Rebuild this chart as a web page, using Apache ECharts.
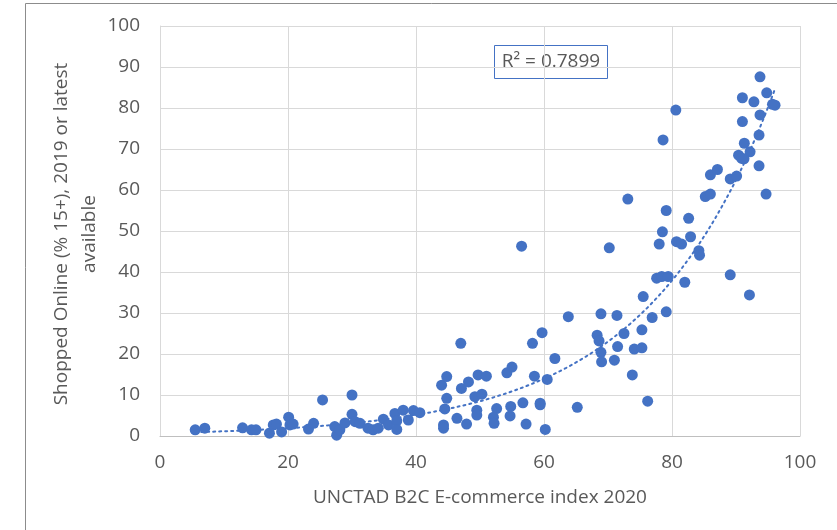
<!DOCTYPE html>
<html>
<head>
<meta charset="utf-8">
<script src="https://cdn.jsdelivr.net/npm/echarts@6/dist/echarts.min.js"></script>
<style>
html,body{margin:0;padding:0;background:#fff;}
#chart{width:837px;height:530px;}
</style>
</head>
<body>
<div id="chart"></div>
<script>
// UNCTAD B2C E-commerce index 2020 (x) and Shopped Online % 15+ (y)
var ecommerceIndex = [
  5.5, 7.0, 12.9, 14.3, 15.0, 17.1, 17.7, 18.2, 19.0, 20.1, 20.3, 20.8, 23.2, 24.0, 25.4,
  27.3, 27.6, 28.1, 28.9, 30.0, 30.0, 30.5, 31.25, 32.5, 33.3, 34.1, 34.9, 35.7, 36.7, 37.0,
  37.0, 38.0, 38.8, 39.6, 40.6, 44.0, 44.8, 44.8, 44.3, 44.3, 44.5, 46.4, 47.0, 47.1, 48.2,
  47.9, 49.2, 49.7, 51.0, 50.3, 49.5, 49.5, 52.6, 52.1, 52.2, 54.2, 55.0, 54.8, 54.7, 56.7,
  57.2, 58.2, 58.5, 59.4, 59.4, 59.7, 60.2, 60.5, 61.7, 56.5, 63.8, 65.2, 70.2, 73.1, 68.3,
  68.6, 68.9, 68.9, 69.0, 71.4, 71.5, 71.0, 72.5, 73.8, 74.1, 75.3, 75.3, 75.5, 76.2, 76.9,
  77.6, 78.4, 79.4, 79.1, 78.0, 78.5, 79.1, 82.0, 80.7, 81.5, 82.6, 82.9, 84.2, 84.3, 78.6,
  80.6, 93.75, 91.0, 92.8, 94.8, 96.1, 95.7, 91.0, 93.75, 91.3, 93.6, 92.2, 90.4, 90.9, 91.25,
  93.6, 86.0, 87.1, 89.1, 90.1, 85.2, 86.0, 94.7, 89.1, 92.1
];
var shoppedOnline = [
  1.5, 1.9, 2.0, 1.5, 1.5, 0.7, 2.7, 2.9, 1.0, 4.6, 2.7, 2.9, 1.7, 3.1, 8.8,
  2.3, 0.2, 1.5, 3.2, 10.0, 5.3, 3.5, 3.1, 1.9, 1.5, 1.9, 4.1, 2.7, 5.5, 3.7,
  1.6, 6.3, 3.9, 6.2, 5.7, 12.4, 14.5, 9.2, 2.7, 1.9, 6.6, 4.3, 22.6, 11.6, 13.2,
  2.9, 9.6, 14.9, 14.6, 10.2, 6.3, 5.1, 6.7, 4.6, 3.1, 15.4, 16.8, 7.2, 4.9, 8.1,
  2.9, 22.6, 14.6, 8.0, 7.6, 25.2, 1.6, 13.8, 18.9, 46.3, 29.1, 7.0, 45.9, 57.8, 24.6,
  23.2, 29.8, 20.4, 18.1, 29.4, 21.8, 18.5, 25.0, 14.9, 21.2, 21.5, 25.9, 34.0, 8.5, 28.9,
  38.5, 38.9, 38.9, 30.3, 46.8, 49.8, 55.0, 37.5, 47.4, 46.8, 53.1, 48.6, 45.2, 44.1, 72.2,
  79.5, 87.6, 82.5, 81.5, 83.7, 80.7, 80.9, 76.7, 78.3, 71.4, 73.4, 69.3, 68.5, 67.7, 67.6,
  65.9, 63.7, 65.0, 62.7, 63.4, 58.4, 59.0, 59.0, 39.3, 34.4
];
var xTicks = [0, 20, 40, 60, 80, 100];
var yTicks = [0, 10, 20, 30, 40, 50, 60, 70, 80, 90, 100];
// Exponential trendline y = A * e^(B x)
var TREND_A = 0.70;
var TREND_B = 0.0499;
var R2_LABEL = 'R\u00B2 = 0.7899';

var points = ecommerceIndex.map(function (x, i) { return [x, shoppedOnline[i]]; });
var xMin = Math.min.apply(null, ecommerceIndex);
var xMax = Math.max.apply(null, ecommerceIndex);
var trend = [];
for (var t = 0; t <= 100; t++) {
  var xv = xMin + (xMax - xMin) * t / 100;
  trend.push([xv, TREND_A * Math.exp(TREND_B * xv)]);
}

var FONT = '"Open Sans", sans-serif';
var FS = 19;
var chart = echarts.init(document.getElementById('chart'), null, { renderer: 'canvas' });
chart.setOption({
  animation: false,
  backgroundColor: '#fff',
  grid: { left: 160, right: 37, top: 26, bottom: 94 },
  xAxis: {
    type: 'value', min: xTicks[0], max: xTicks[xTicks.length - 1], interval: 20,
    name: 'UNCTAD B2C E-commerce index 2020', nameLocation: 'middle', nameGap: 52,
    nameTextStyle: { color: '#595959', fontSize: FS, fontFamily: FONT },
    axisLine: { show: true, lineStyle: { color: '#bfbfbf', width: 1 } },
    axisTick: { show: false },
    axisLabel: { color: '#595959', fontSize: FS, fontFamily: FONT, margin: 17 },
    splitLine: { show: true, lineStyle: { color: '#d9d9d9', width: 1 } }
  },
  yAxis: {
    type: 'value', min: yTicks[0], max: yTicks[yTicks.length - 1], interval: 10,
    axisLine: { show: true, lineStyle: { color: '#d9d9d9', width: 1 } },
    axisTick: { show: false },
    axisLabel: { color: '#595959', fontSize: FS, fontFamily: FONT, margin: 20 },
    splitLine: { show: true, lineStyle: { color: '#d9d9d9', width: 1 } }
  },
  graphic: [
    { type: 'rect', z: -10, silent: true,
      shape: { x: 25.5, y: 3.5, width: 900, height: 600 },
      style: { fill: 'none', stroke: '#8c8c8c', lineWidth: 1 } },
    { type: 'text', silent: true, x: 76, y: 234, rotation: Math.PI / 2,
      style: { text: 'Shopped Online (% 15+), 2019 or latest\navailable', fill: '#595959',
               font: FS + 'px ' + FONT, align: 'center', verticalAlign: 'middle', lineHeight: 28 } },
    { type: 'rect', silent: true, shape: { x: 494.5, y: 45.5, width: 113, height: 33 },
      style: { fill: '#fff', stroke: '#4472C4', lineWidth: 1 } },
    { type: 'text', silent: true, x: 551, y: 62, style: { text: R2_LABEL, fill: '#595959',
      font: FS + 'px ' + FONT, align: 'center', verticalAlign: 'middle' } }
  ],
  series: [
    { type: 'line', data: trend, showSymbol: false, symbol: 'none', smooth: false, z: 1,
      lineStyle: { color: '#4472C4', width: 2, type: [2, 4], cap: 'round' } },
    { type: 'scatter', data: points, symbol: 'circle', symbolSize: 11, z: 3,
      itemStyle: { color: '#4472C4', opacity: 1 } }
  ]
});
</script>
</body>
</html>
